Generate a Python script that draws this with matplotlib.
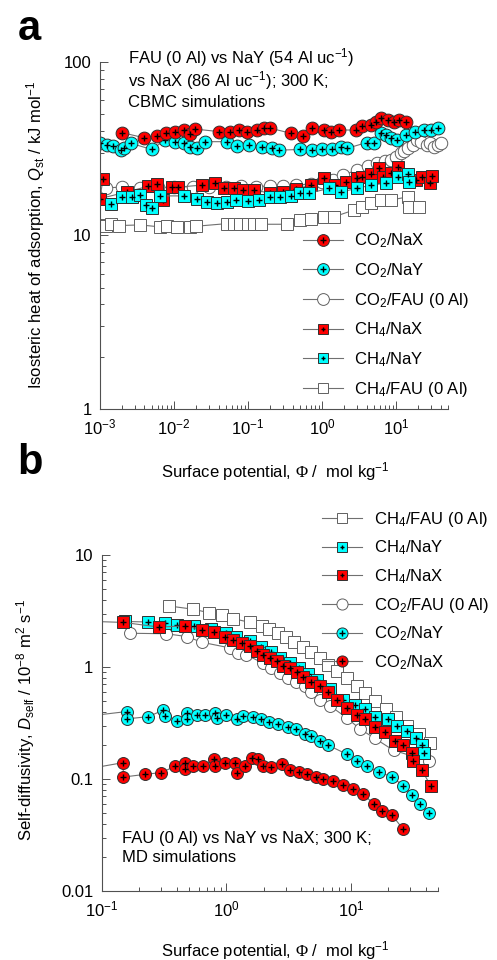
import matplotlib
matplotlib.use("Agg")
import matplotlib.pyplot as plt
from matplotlib.lines import Line2D
from matplotlib.ticker import FuncFormatter, LogLocator, NullFormatter

plt.rcParams["font.family"] = ["Liberation Sans", "DejaVu Sans"]
plt.rcParams["mathtext.fontset"] = "custom"
plt.rcParams["mathtext.rm"] = "Liberation Sans"
plt.rcParams["mathtext.it"] = "Liberation Sans:italic"
plt.rcParams["mathtext.sf"] = "Liberation Sans"
plt.rcParams["mathtext.cal"] = "Liberation Serif"
plt.rcParams["font.size"] = 12

# ---- panel a: isosteric heat of adsorption (kJ/mol) vs surface potential
qst_co2_nax_x = [0.002, 0.0039, 0.0059, 0.0079, 0.0104, 0.0135, 0.0166, 0.0194, 0.040, 0.058,
                 0.075, 0.098, 0.133, 0.164, 0.20, 0.38, 0.55, 0.74, 1.07, 1.32, 1.7, 2.85,
                 3.5, 4.6, 5.35, 6.3, 7.7, 9.4, 11, 13.5]
qst_co2_nax_y = [39.1, 36.6, 37.4, 39.1, 39.7, 40.5, 38.5, 41, 39.7, 39.7,
                 40.5, 39.7, 40.5, 41.5, 41.5, 38.8, 37.4, 41.5, 40.5, 39.7, 40.5, 40.5,
                 42.5, 43.4, 45.3, 47.3, 46.3, 45.3, 46.3, 45.3]

qst_co2_nay_x = [0.001, 0.00123, 0.0015, 0.0019, 0.0021, 0.0026, 0.005, 0.0076, 0.0104, 0.0135,
                 0.0166, 0.0204, 0.0265, 0.052, 0.071, 0.102, 0.155, 0.21, 0.26, 0.51, 0.74,
                 1.0, 1.37, 1.79, 2.2, 4.0, 5.1, 6.3, 7.3, 8.5, 10.3, 13.5, 18.3, 23.6, 30, 36.7]
qst_co2_nay_y = [34, 33.2, 32.7, 31, 31.8, 34, 31.3, 35.5, 34.7, 34,
                 32.3, 31.8, 34.7, 34.7, 32.7, 33.2, 32.5, 31.8, 31, 31.3, 31,
                 31.3, 31.3, 32.5, 31.8, 34.3, 34, 38.8, 37.9, 36.3, 35.5, 37.9, 39.7, 40.5, 40.5, 41.5]

qst_co2_fau_x = [0.0012, 0.002, 0.0035, 0.006, 0.01, 0.018, 0.03, 0.05, 0.08, 0.13, 0.2, 0.3,
                 0.45, 0.7, 1.0, 1.4, 1.95, 3.0, 4.2, 5.6, 7.0, 8.5, 10, 11.6, 13, 14.6, 17, 19,
                 22, 26, 29, 33, 37, 40]
qst_co2_fau_y = [18.8, 19.0, 18.7, 18.9, 19.0, 19.1, 18.9, 19.0, 19.2, 19.1, 19.3, 19.2,
                 19.5, 19.8, 20.2, 21.0, 22.3, 23.9, 25, 26, 26.8, 27.3, 28.5, 29.7, 30.5, 31.8, 33, 35.5,
                 34.5, 33, 34, 32.5, 33, 34]

qst_ch4_nax_x = [0.0011, 0.001, 0.0023, 0.0045, 0.0059, 0.0072, 0.0094, 0.0115, 0.024, 0.036,
                 0.047, 0.064, 0.087, 0.12, 0.2, 0.3, 0.45, 0.7, 1.06, 1.5, 2.1, 3.0, 3.5, 4.6,
                 5.9, 6.6, 8.5, 10.5, 13.5, 18.4, 22.5, 29, 30.7]
qst_ch4_nax_y = [21.1, 16.3, 17.8, 19.2, 19.8, 16, 19, 19, 19.5, 20,
                 18.7, 18.7, 18.3, 18.3, 17.5, 17.8, 18.5, 19.5, 21.3, 19.5, 20.4, 21.3, 21.8, 22.7,
                 24.4, 21.8, 23, 24.9, 22.7, 20.9, 21.8, 20, 22]

qst_ch4_nay_x = [0.0014, 0.002, 0.0027, 0.0035, 0.0042, 0.005, 0.0065, 0.0135, 0.0204, 0.028,
                 0.038, 0.052, 0.068, 0.1, 0.14, 0.2, 0.27, 0.38, 0.51, 0.67, 1.25, 1.8, 3.0,
                 4.6, 7.3, 10.5, 14.6, 15]
qst_ch4_nay_y = [15.2, 16.7, 16.6, 17.1, 15.0, 14.3, 16.9, 16.9, 16.3, 15.6,
                 15.3, 15.6, 16, 15.8, 16, 16.7, 16.7, 16.9, 17.5, 17.5, 18.7, 17.8, 18.7,
                 19.5, 20, 21.8, 22.7, 20.4]

qst_ch4_fau_x = [0.001, 0.0012, 0.0014, 0.0018, 0.0035, 0.0065, 0.008, 0.011, 0.0166, 0.02,
                 0.052, 0.065, 0.079, 0.1, 0.12, 0.15, 0.34, 0.51, 0.7, 1.06, 1.44, 2.7, 3.5,
                 4.6, 6.3, 8.5, 14.6, 15, 20.5]
qst_ch4_fau_y = [11.5, 11.3, 11.6, 11.4, 11.5, 11.2, 11.3, 11.2, 11.2, 11.3,
                 11.7, 11.6, 11.7, 11.6, 11.7, 11.6, 11.6, 12.3, 12.4, 12.7, 12.8, 14, 14.6,
                 15.3, 16, 16, 16.7, 14.6, 14.6]

# ---- panel b: self-diffusivity (1e-8 m2/s) vs surface potential
d_co2_nax_x = [0.05, 0.149, 0.149, 0.223, 0.30, 0.39, 0.466, 0.466, 0.544, 0.65, 0.79, 0.81,
               0.98, 1.18, 1.21, 1.41, 1.6, 1.8, 1.98, 2.3, 2.78, 3.25, 3.8, 4.45, 5.2, 6.0,
               7.2, 8.7, 10.4, 12.6, 15.2, 17.8, 21.3, 26]
d_co2_nax_y = [0.113, 0.14, 0.104, 0.11, 0.114, 0.13, 0.14, 0.122, 0.13, 0.13, 0.152, 0.13,
               0.138, 0.14, 0.114, 0.13, 0.154, 0.15, 0.13, 0.127, 0.135, 0.12, 0.116, 0.11, 0.104, 0.099,
               0.095, 0.089, 0.081, 0.073, 0.06, 0.052, 0.048, 0.036]

d_co2_nay_x = [0.05, 0.159, 0.159, 0.236, 0.31, 0.32, 0.40, 0.48, 0.48, 0.58, 0.67, 0.81, 0.84,
               1.0, 1.21, 1.37, 1.64, 1.9, 2.2, 2.6, 3.1, 3.6, 4.3, 4.8, 5.6, 6.6, 9.3,
               11.1, 13.4, 16.7, 21.2, 26.3, 30.7, 36, 42]
d_co2_nay_y = [0.344, 0.40, 0.344, 0.36, 0.41, 0.365, 0.33, 0.39, 0.344, 0.375, 0.375, 0.39, 0.35,
               0.375, 0.344, 0.365, 0.356, 0.34, 0.32, 0.31, 0.29, 0.28, 0.25, 0.24, 0.22, 0.2, 0.166,
               0.144, 0.13, 0.115, 0.105, 0.087, 0.072, 0.06, 0.05]

d_co2_fau_x = [0.17, 0.33, 0.48, 0.64, 1.07, 1.25, 1.45, 1.98, 2.3, 2.7, 3.1, 3.6, 4.3, 4.8,
               5.6, 6.8, 9.3, 11.8, 15.6, 22, 42]
d_co2_fau_y = [2.0, 1.98, 1.87, 1.66, 1.48, 1.33, 1.28, 1.08, 0.98, 0.88, 0.80, 0.74, 0.67, 0.60,
               0.51, 0.45, 0.35, 0.28, 0.23, 0.18, 0.145]

d_ch4_nax_x = [0.05, 0.149, 0.29, 0.466, 0.635, 0.79, 0.98, 1.14, 1.33, 1.55, 1.75, 1.98, 2.25,
               2.54, 2.86, 3.23, 3.66, 4.1, 4.8, 5.6, 6.6, 7.7, 9.3, 11.1, 12.9, 15.6, 18.9,
               22.5, 26.3, 30.7, 31.5, 37, 44]
d_ch4_nax_y = [2.6, 2.5, 2.27, 2.33, 2.15, 2.05, 1.87, 1.73, 1.64, 1.55, 1.38, 1.28, 1.21,
               1.12, 1.03, 0.98, 0.90, 0.82, 0.74, 0.67, 0.6, 0.51, 0.43, 0.375, 0.34, 0.29, 0.26,
               0.22, 0.2, 0.17, 0.144, 0.12, 0.086]

d_ch4_nay_x = [0.154, 0.236, 0.32, 0.4, 0.55, 0.75, 1.0, 1.2, 1.55, 1.9, 2.3, 2.7, 3.23, 3.8,
               4.5, 5.3, 6.8, 8.7, 10.8, 12.9, 15.6, 20, 23.5, 28, 33, 37, 38.5]
d_ch4_nay_y = [2.55, 2.52, 2.47, 2.38, 2.3, 2.2, 2.0, 1.85, 1.69, 1.5, 1.35, 1.2, 1.08, 0.97,
               0.86, 0.77, 0.63, 0.51, 0.46, 0.42, 0.36, 0.34, 0.3, 0.27, 0.23, 0.2, 0.17]

d_ch4_fau_x = [0.35, 0.54, 0.72, 0.93, 1.14, 1.55, 1.92, 2.2, 2.6, 3.0, 3.5, 4.1, 4.8, 5.6,
               6.6, 7.7, 9.3, 11.1, 13, 15.6, 19, 23, 28, 35, 43]
d_ch4_fau_y = [3.5, 3.28, 3.06, 2.9, 2.7, 2.5, 2.3, 2.18, 2.0, 1.85, 1.68, 1.5, 1.35, 1.2,
               1.05, 0.92, 0.8, 0.68, 0.58, 0.5, 0.42, 0.36, 0.3, 0.25, 0.21]

RED = "#ff0000"
CYAN = "#00ffff"
LINE = "#707070"

styles = {
    "co2_nax": dict(marker="o", face=RED, plus=True, label=r"CO$_2$/NaX"),
    "co2_nay": dict(marker="o", face=CYAN, plus=True, label=r"CO$_2$/NaY"),
    "co2_fau": dict(marker="o", face="white", plus=False, label=r"CO$_2$/FAU (0 Al)"),
    "ch4_nax": dict(marker="s", face=RED, plus=True, label=r"CH$_4$/NaX"),
    "ch4_nay": dict(marker="s", face=CYAN, plus=True, label=r"CH$_4$/NaY"),
    "ch4_fau": dict(marker="s", face="white", plus=False, label=r"CH$_4$/FAU (0 Al)"),
}


def draw_series(ax, x, y, key, ms):
    st = styles[key]
    edge = "#303030" if st["plus"] else "#606060"
    ax.plot(x, y, color=LINE, lw=0.8, marker=st["marker"], ms=ms,
            mfc=st["face"], mec=edge, mew=0.7)
    if st["plus"]:
        ax.plot(x, y, ls="none", marker="+", ms=ms * 0.5, color="black", mew=1.0)


def legend_handle(key, ms):
    st = styles[key]
    edge = "#303030" if st["plus"] else "#606060"
    base = Line2D([], [], color=LINE, lw=0.8, marker=st["marker"], ms=ms,
                  mfc=st["face"], mec=edge, mew=0.7)
    if not st["plus"]:
        return base
    plus = Line2D([], [], ls="none", marker="+", ms=ms * 0.5, color="black", mew=1.0)
    return (base, plus)


def style_axis(ax):
    ax.set_xscale("log")
    ax.set_yscale("log")
    for s in ["top", "right"]:
        ax.spines[s].set_visible(False)
    for s in ["left", "bottom"]:
        ax.spines[s].set_color("#505050")
        ax.spines[s].set_linewidth(0.8)
    ax.tick_params(which="major", direction="in", length=6, width=0.7, color="#505050",
                   labelsize=12, pad=6)
    ax.tick_params(which="minor", direction="in", length=3, width=0.7, color="#505050")
    ax.yaxis.set_major_formatter(FuncFormatter(lambda v, _: f"{v:g}"))
    ax.yaxis.set_minor_formatter(NullFormatter())
    ax.xaxis.set_minor_formatter(NullFormatter())
    ax.xaxis.set_minor_locator(LogLocator(base=10, subs=range(2, 10), numticks=20))
    ax.yaxis.set_minor_locator(LogLocator(base=10, subs=range(2, 10), numticks=20))


fig = plt.figure(figsize=(4.97, 9.6), dpi=100)

# ---------------- panel a
ax1 = fig.add_axes([0.201, 0.574, 0.700, 0.3615])
style_axis(ax1)
draw_series(ax1, qst_co2_fau_x, qst_co2_fau_y, "co2_fau", 9)
draw_series(ax1, qst_ch4_fau_x, qst_ch4_fau_y, "ch4_fau", 8)
draw_series(ax1, qst_ch4_nax_x, qst_ch4_nax_y, "ch4_nax", 8)
draw_series(ax1, qst_ch4_nay_x, qst_ch4_nay_y, "ch4_nay", 8)
draw_series(ax1, qst_co2_nay_x, qst_co2_nay_y, "co2_nay", 9.2)
draw_series(ax1, qst_co2_nax_x, qst_co2_nax_y, "co2_nax", 9.2)
ax1.set_xlim(1e-3, 50)
ax1.set_ylim(1, 100)
ax1.set_xlabel(r"Surface potential, $\mathcal{\Phi}$ /  mol kg$^{-1}$", fontsize=12)
ax1.xaxis.set_label_coords(0.503, -0.148)
ax1.set_ylabel(r"Isosteric heat of adsorption, $Q_{\mathrm{st}}$ / kJ mol$^{-1}$", fontsize=12)
ax1.yaxis.set_label_coords(-0.152, 0.5)
note_a = ["FAU (0 Al) vs NaY (54 Al uc$^{-1}$)", "vs NaX (86 Al uc$^{-1}$); 300 K;",
          "CBMC simulations"]
for line, yy in zip(note_a, [0.995, 0.93, 0.87]):
    ax1.text(0.08, yy, line, transform=ax1.transAxes, ha="left", va="baseline", fontsize=12)

keys_a = ["co2_nax", "co2_nay", "co2_fau", "ch4_nax", "ch4_nay", "ch4_fau"]
hs = [legend_handle(k, 8.5 if styles[k]["marker"] == "o" else 6.5) for k in keys_a]
ax1.legend(hs, [styles[k]["label"] for k in keys_a], loc="upper left",
           bbox_to_anchor=(0.583, 0.511), frameon=False, borderpad=0, borderaxespad=0,
           handlelength=2.4, handletextpad=0.7, labelspacing=0.65, fontsize=12)

# ---------------- panel b
ax2 = fig.add_axes([0.2046, 0.0719, 0.6767, 0.350])
style_axis(ax2)
draw_series(ax2, d_ch4_fau_x, d_ch4_fau_y, "ch4_fau", 8)
draw_series(ax2, d_co2_fau_x, d_co2_fau_y, "co2_fau", 8.6)
draw_series(ax2, d_ch4_nay_x, d_ch4_nay_y, "ch4_nay", 8)
draw_series(ax2, d_ch4_nax_x, d_ch4_nax_y, "ch4_nax", 8)
draw_series(ax2, d_co2_nay_x, d_co2_nay_y, "co2_nay", 8.6)
draw_series(ax2, d_co2_nax_x, d_co2_nax_y, "co2_nax", 8.6)
ax2.set_xlim(0.1, 50)
ax2.set_ylim(0.01, 10)
ax2.set_xlabel(r"Surface potential, $\mathcal{\Phi}$ /  mol kg$^{-1}$", fontsize=12)
ax2.xaxis.set_label_coords(0.515, -0.142)
ax2.set_ylabel(r"Self-diffusivity, $D_{\mathrm{self}}$ / 10$^{-8}$ m$^2$ s$^{-1}$", fontsize=12)
ax2.yaxis.set_label_coords(-0.192, 0.51)
ax2.text(0.06, 0.178, "FAU (0 Al) vs NaY vs NaX; 300 K;\nMD simulations",
         transform=ax2.transAxes, ha="left", va="top", fontsize=12, linespacing=1.35)

keys_b = ["ch4_fau", "ch4_nay", "ch4_nax", "co2_fau", "co2_nay", "co2_nax"]
hs = [legend_handle(k, 8.0 if styles[k]["marker"] == "o" else 6.5) for k in keys_b]
ax2.legend(hs, [styles[k]["label"] for k in keys_b], loc="upper left",
           bbox_to_anchor=(0.655, 1.134), frameon=False, borderpad=0, borderaxespad=0,
           handlelength=2.4, handletextpad=0.7, labelspacing=0.59, fontsize=12)

fig.text(0.06, 0.97, "a", fontsize=30, fontweight="bold", ha="center", va="center")
fig.text(0.06, 0.518, "b", fontsize=30, fontweight="bold", ha="center", va="center")

fig.savefig("out.png", dpi=100)
